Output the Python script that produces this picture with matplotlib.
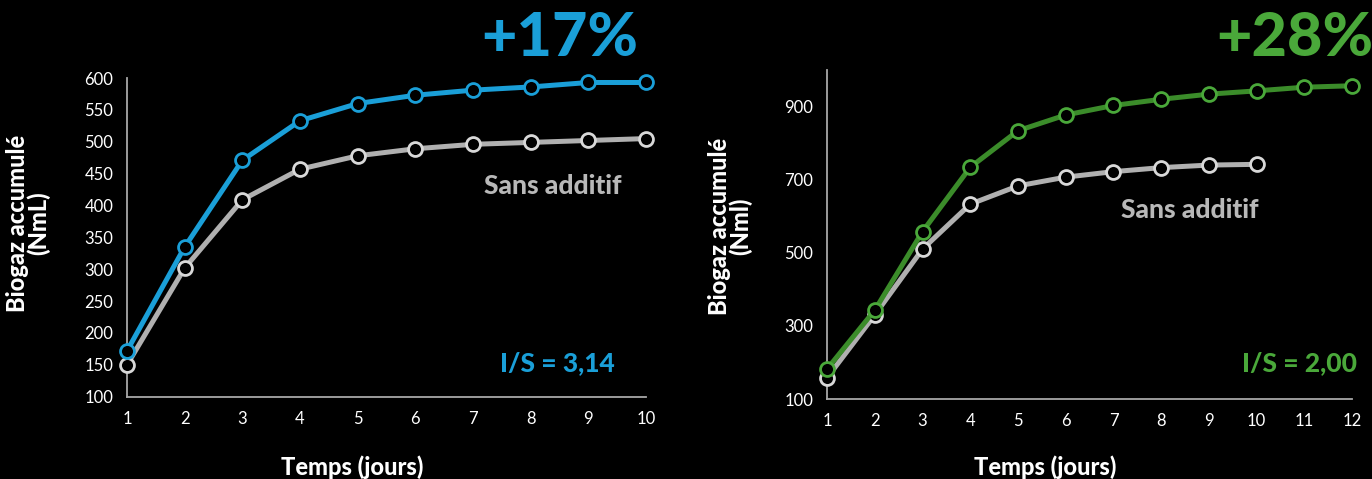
import matplotlib.pyplot as plt

plt.rcParams['font.family'] = ['Lato', 'DejaVu Sans']

# left chart: I/S = 3,14
days_left = [1, 2, 3, 4, 5, 6, 7, 8, 9, 10]
with_additive_left = [172, 335, 471, 533, 560, 573, 581, 586, 593, 593]
without_additive_left = [150, 302, 409, 457, 478, 489, 496, 499, 502, 505]
yticks_left = [100, 150, 200, 250, 300, 350, 400, 450, 500, 550, 600]

# right chart: I/S = 2,00
days_right = [1, 2, 3, 4, 5, 6, 7, 8, 9, 10, 11, 12]
with_additive_right = [182, 343, 558, 734, 834, 877, 903, 920, 934, 943, 953, 957]
days_right_ref = [1, 2, 3, 4, 5, 6, 7, 8, 9, 10]
without_additive_right = [158, 330, 510, 633, 683, 707, 722, 733, 740, 742]
yticks_right = [100, 300, 500, 700, 900]

BLUE = '#1a9fd8'
GREEN_LINE = '#3b8c2a'
GREEN = '#4aa83a'
GRAY_LINE = '#b0b0b0'
GRAY_TXT = '#b8b8b8'
SPINE = '#a8a8a8'


def style_axes(ax):
    ax.set_facecolor('black')
    for side in ['top', 'right']:
        ax.spines[side].set_visible(False)
    for side in ['left', 'bottom']:
        ax.spines[side].set_color(SPINE)
        ax.spines[side].set_linewidth(1.3)
    ax.tick_params(length=0, colors='white', labelsize=12, pad=10)


def draw_series(ax, x, y, line_color, edge_color):
    ax.plot(x, y, color=line_color, lw=3.6, marker='o', markersize=10,
            markerfacecolor='black', markeredgecolor=edge_color,
            markeredgewidth=2, clip_on=False, zorder=3)


fig = plt.figure(figsize=(13.72, 4.79), dpi=100, facecolor='black')

ax1 = fig.add_axes([0.0926, 0.1718, 0.3783, 0.6653])
style_axes(ax1)
draw_series(ax1, days_left, without_additive_left, GRAY_LINE, '#d8d8d8')
draw_series(ax1, days_left, with_additive_left, BLUE, BLUE)
ax1.set_xlim(1, 10)
ax1.set_ylim(100, 600)
ax1.set_xticks(days_left)
ax1.set_yticks(yticks_left)

ax2 = fig.add_axes([0.6028, 0.167, 0.3827, 0.6868])
style_axes(ax2)
draw_series(ax2, days_right_ref, without_additive_right, GRAY_LINE, '#d8d8d8')
draw_series(ax2, days_right, with_additive_right, GREEN_LINE, GREEN)
ax2.set_xlim(1, 12)
ax2.set_ylim(100, 1000)
ax2.set_xticks(days_right)
ax2.set_yticks(yticks_right)

# axis titles
fig.text(28 / 1372, 1 - 223 / 479, 'Biogaz accumulé\n(NmL)', rotation=90,
         color='white', fontsize=17, fontweight='black', ha='center',
         va='center', linespacing=0.85)
fig.text(730 / 1372, 1 - 226 / 479, 'Biogaz accumulé\n(Nml)', rotation=90,
         color='white', fontsize=17, fontweight='black', ha='center',
         va='center', linespacing=0.85)
fig.text(352 / 1372, 1 - 467 / 479, 'Temps (jours)', color='white',
         fontsize=17, fontweight='black', ha='center', va='center')
fig.text(1045 / 1372, 1 - 467 / 479, 'Temps (jours)', color='white',
         fontsize=17, fontweight='black', ha='center', va='center')

# annotations
fig.text(560 / 1372, 1 - 38 / 479, '+17%', color=BLUE, fontsize=44,
         fontweight='black', ha='center', va='center')
fig.text(1295 / 1372, 1 - 38 / 479, '+28%', color=GREEN, fontsize=44,
         fontweight='black', ha='center', va='center')
fig.text(553 / 1372, 1 - 186 / 479, 'Sans additif', color=GRAY_TXT,
         fontsize=19, fontweight='black', ha='center', va='center')
fig.text(1190 / 1372, 1 - 210 / 479, 'Sans additif', color=GRAY_TXT,
         fontsize=19, fontweight='black', ha='center', va='center')
fig.text(557 / 1372, 1 - 363 / 479, 'I/S = 3,14', color=BLUE,
         fontsize=19, fontweight='black', ha='center', va='center')
fig.text(1300 / 1372, 1 - 363 / 479, 'I/S = 2,00', color=GREEN,
         fontsize=19, fontweight='black', ha='center', va='center')

fig.savefig('out.png', dpi=100, facecolor='black')
